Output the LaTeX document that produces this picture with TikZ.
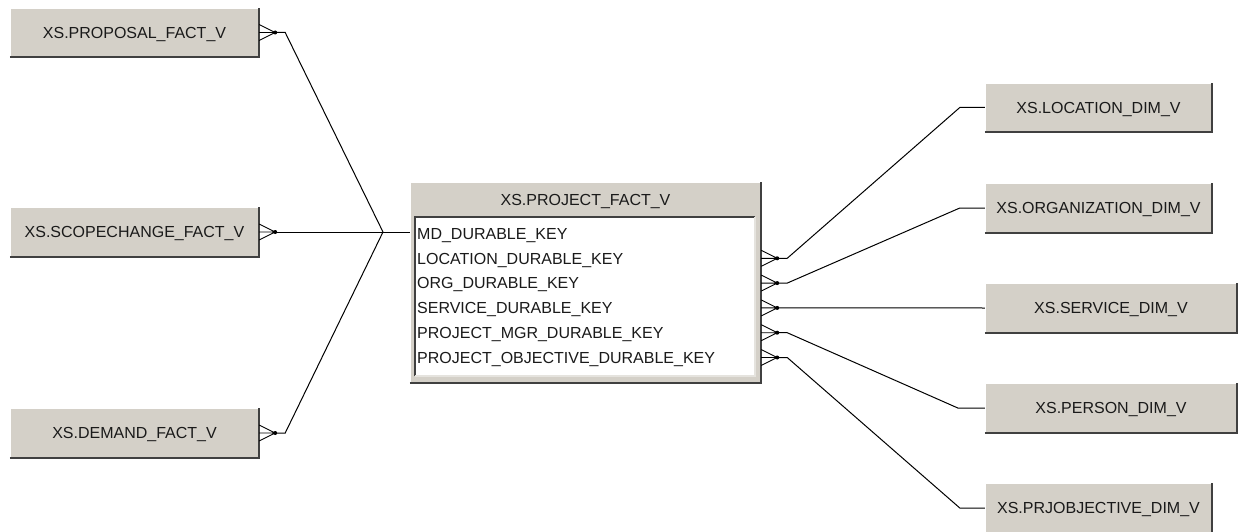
\documentclass[tikz,border=0pt]{standalone}
\usepackage{fontspec}
\setmainfont{Liberation Sans}
\usetikzlibrary{calc}
\definecolor{boxgray}{HTML}{D4D0C8}
\definecolor{boxdark}{HTML}{404040}
\definecolor{boxmid}{HTML}{808080}
\definecolor{txt}{HTML}{1A1A1A}
\tikzset{
  conn/.style={line width=1pt, black},
  crowline/.style={line width=0.9pt, black},
  tbl/.style={rectangle, fill=boxgray, inner sep=0pt, font=\fontsize{16}{18}\selectfont,
    text=txt, text height=11.5pt, text depth=0pt},
  fld/.style={inner sep=0pt, anchor=west, font=\fontsize{16}{18}\selectfont, text=txt,
    text height=11.5pt, text depth=0pt},
  hi/.style={line width=1.5pt, white},
  lo/.style={line width=2pt, boxdark},
}
\newcommand\bevel[1]{%
  \draw[hi] (#1.south west) -- (#1.north west) -- (#1.north east);
  \draw[lo] (#1.south west) -- (#1.south east) -- (#1.north east);}
\newcommand\crowfoot[2]{% #1 edge coordinate, #2 name of tip coordinate
  \begin{scope}[shift={(#1)}]
    \draw[crowline] (0,-8) -- (16,0) -- (0,8) (0,0) -- (16,0);
    \fill (16,0) circle (2pt);
  \end{scope}
  \coordinate (#2) at ($(#1)+(16,0)$);}
\begin{document}
\begin{tikzpicture}[x=1pt,y=-1pt]
\fill[white] (0,0) rectangle (1240,532);
\useasboundingbox (0,0) rectangle (1240,532);

% left fact tables
\node[tbl, minimum width=249pt, minimum height=49pt] (prop) at (134.5,32.5) {XS.PROPOSAL\_FACT\_V};
\node[tbl, minimum width=249pt, minimum height=50pt] (scope) at (134.5,232) {XS.SCOPECHANGE\_FACT\_V};
\node[tbl, minimum width=249pt, minimum height=50pt] (dem) at (134.5,433) {XS.DEMAND\_FACT\_V};
\bevel{prop}\bevel{scope}\bevel{dem}

% right dimension tables
\node[tbl, minimum width=227pt, minimum height=49pt] (loc) at (1098.5,107.5) {XS.LOCATION\_DIM\_V};
\node[tbl, minimum width=227pt, minimum height=50pt] (org) at (1098.5,208) {XS.ORGANIZATION\_DIM\_V};
\node[tbl, minimum width=252pt, minimum height=50pt] (serv) at (1111,308) {XS.SERVICE\_DIM\_V};
\node[tbl, minimum width=252pt, minimum height=50pt] (pers) at (1111,408) {XS.PERSON\_DIM\_V};
\node[tbl, minimum width=227pt, minimum height=50pt] (obj) at (1098.5,508) {XS.PRJOBJECTIVE\_DIM\_V};
\bevel{loc}\bevel{org}\bevel{serv}\bevel{pers}\bevel{obj}

% central table
\node[tbl, minimum width=351pt, minimum height=201pt] (proj) at (585.5,282.5) {};
\bevel{proj}
\node[tbl, fill=none] (projT) at (585.5,200) {XS.PROJECT\_FACT\_V};
\node[fill=white, inner sep=0pt, minimum width=340pt, minimum height=159pt] (panel) at (585,296.5) {};
\draw[line width=1.5pt, boxdark] (panel.south west) -- (panel.north west) -- (panel.north east);
\draw[line width=1.5pt, boxgray!60!white] (panel.south west) -- (panel.south east) -- (panel.north east);
\node[fld] (f1) at (417,233.5) {MD\_DURABLE\_KEY};
\node[fld] (f2) at (417,258.3) {LOCATION\_DURABLE\_KEY};
\node[fld] (f3) at (417,283.1) {ORG\_DURABLE\_KEY};
\node[fld] (f4) at (417,307.9) {SERVICE\_DURABLE\_KEY};
\node[fld] (f5) at (417,332.7) {PROJECT\_MGR\_DURABLE\_KEY};
\node[fld] (f6) at (417,357.5) {PROJECT\_OBJECTIVE\_DURABLE\_KEY};

% crow's feet on the fact tables
\crowfoot{prop.east}{tp}
\crowfoot{scope.east}{ts}
\crowfoot{dem.east}{td}
\coordinate (hub) at (383,232);
\draw[conn] (tp) -- ++(10,0) -- (hub);
\draw[conn] (td) -- ++(10,0) -- (hub);
\draw[conn] (ts) -- (proj.west |- ts);

% crow's feet on the project table
\coordinate (e2) at (proj.east |- f2.west);
\coordinate (e3) at (proj.east |- f3.west);
\coordinate (e4) at (proj.east |- f4.west);
\coordinate (e5) at (proj.east |- f5.west);
\coordinate (e6) at (proj.east |- f6.west);
\crowfoot{e2}{t2}
\crowfoot{e3}{t3}
\crowfoot{e4}{t4}
\crowfoot{e5}{t5}
\crowfoot{e6}{t6}
\draw[conn] (t2) -- ++(10,0) -- ($(loc.west)+(-25,0)$) -- (loc.west);
\draw[conn] (t3) -- ++(10,0) -- ($(org.west)+(-25,0)$) -- (org.west);
\draw[conn] (t4) -- (serv.west);
\draw[conn] (t5) -- ++(10,0) -- ($(pers.west)+(-27,0)$) -- (pers.west);
\draw[conn] (t6) -- ++(10,0) -- ($(obj.west)+(-25,0)$) -- (obj.west);
\end{tikzpicture}
\end{document}
